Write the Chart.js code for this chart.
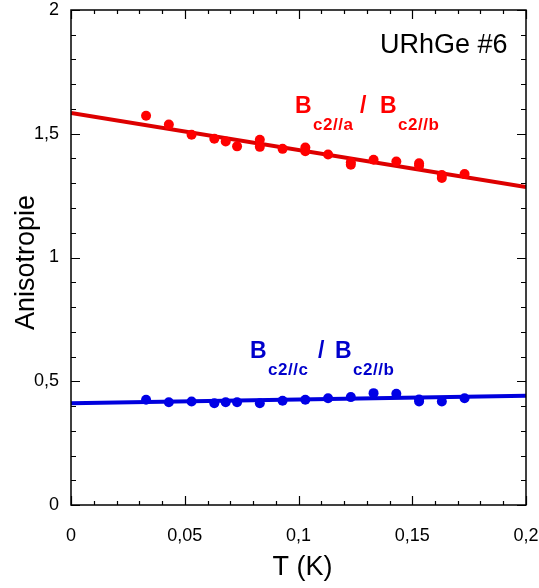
<!DOCTYPE html>
<html>
<head>
<meta charset="utf-8">
<script src="https://cdn.jsdelivr.net/npm/chart.js@4.4.0/dist/chart.umd.min.js"></script>
<style>
  html, body { margin: 0; padding: 0; background: #fff; }
  #wrap { width: 539px; height: 588px; }
</style>
</head>
<body>
<div id="wrap"><canvas id="c" width="539" height="588"></canvas></div>
<script>
// ---- data ----
const tRed = [0.033,0.043,0.053,0.063,0.068,0.073,0.083,0.083,0.093,0.103,0.103,0.113,0.123,0.123,0.133,0.143,0.153,0.153,0.163,0.163,0.173];
const ratioAB = [1.573,1.537,1.496,1.480,1.469,1.449,1.476,1.447,1.439,1.444,1.429,1.416,1.375,1.385,1.395,1.388,1.371,1.381,1.321,1.333,1.337];
const tBlue = [0.033,0.043,0.053,0.063,0.068,0.073,0.083,0.093,0.103,0.113,0.123,0.133,0.143,0.153,0.153,0.163,0.173];
const ratioCB = [0.425,0.415,0.418,0.411,0.415,0.415,0.411,0.421,0.425,0.431,0.436,0.452,0.449,0.418,0.426,0.418,0.431];
const fitT = [0, 0.2];
const fitAB = [1.584, 1.285];
const fitCB = [0.411, 0.441];
const xTicks = [0, 0.05, 0.1, 0.15, 0.2];
const yTicks = [0, 0.5, 1, 1.5, 2];
const xMinorStep = 0.01;
const yMinorStep = 0.1;
const sampleLabel = "URhGe #6";
const xTitle = "T (K)";
const yTitle = "Anisotropie";

const FONT = '"Liberation Sans", Arial, sans-serif';
const fmt = v => String(Math.round(v * 100) / 100).replace('.', ',');
const pts = (xs, ys) => xs.map((x, i) => ({ x: x, y: ys[i] }));

const framePlugin = {
  id: 'frame',
  afterDatasetsDraw(chart) {
    const ctx = chart.ctx;
    const a = chart.chartArea;
    const xs = chart.scales.x, ys = chart.scales.y;
    ctx.save();
    ctx.strokeStyle = '#000';
    ctx.lineWidth = 1.5;
    ctx.strokeRect(a.left, a.top, a.right - a.left, a.bottom - a.top);
    ctx.lineWidth = 1.2;
    ctx.beginPath();
    const nx = Math.round((xs.max - xs.min) / xMinorStep);
    for (let i = 0; i <= nx; i++) {
      const v = xs.min + i * xMinorStep;
      const major = xTicks.some(t => Math.abs(t - v) < 1e-9);
      const L = major ? 9 : 4;
      const p = Math.round(xs.getPixelForValue(v)) + 0.5;
      ctx.moveTo(p, a.bottom); ctx.lineTo(p, a.bottom - L);
      ctx.moveTo(p, a.top); ctx.lineTo(p, a.top + L);
    }
    const ny = Math.round((ys.max - ys.min) / yMinorStep);
    for (let i = 0; i <= ny; i++) {
      const v = ys.min + i * yMinorStep;
      const major = yTicks.some(t => Math.abs(t - v) < 1e-9);
      const L = major ? 9 : 5;
      const p = Math.round(ys.getPixelForValue(v)) + 0.5;
      ctx.moveTo(a.left, p); ctx.lineTo(a.left + L, p);
      ctx.moveTo(a.right, p); ctx.lineTo(a.right - L, p);
    }
    ctx.stroke();
    ctx.restore();
  },
  afterDraw(chart) {
    const ctx = chart.ctx;
    const a = chart.chartArea;
    const xs = chart.scales.x, ys = chart.scales.y;
    ctx.save();
    ctx.fillStyle = '#000';
    ctx.textBaseline = 'alphabetic';
    // axis titles
    ctx.font = '27px ' + FONT;
    ctx.textAlign = 'center';
    ctx.fillText(xTitle, (a.left + a.right) / 2 + 4, 575);
    ctx.save();
    ctx.translate(34, (a.top + a.bottom) / 2 + 5);
    ctx.rotate(-Math.PI / 2);
    ctx.fillText(yTitle, 0, 0);
    ctx.restore();
    // sample label
    ctx.textAlign = 'left';
    ctx.font = '27px ' + FONT;
    ctx.fillText(sampleLabel, 380, 53);
    // ratio labels
    function ratioLabel(xv, yv, color, sub1, slashOff, b2Off) {
      const x0 = xs.getPixelForValue(xv);
      const y0 = ys.getPixelForValue(yv);
      ctx.fillStyle = color;
      ctx.font = 'bold 23px ' + FONT;
      ctx.letterSpacing = '0px';
      ctx.fillText('B', x0, y0);
      ctx.fillText('/', x0 + slashOff, y0);
      ctx.fillText('B', x0 + b2Off, y0);
      ctx.font = 'bold 17px ' + FONT;
      ctx.letterSpacing = '0.5px';
      ctx.fillText(sub1, x0 + 18, y0 + 17);
      ctx.fillText('c2//b', x0 + b2Off + 18, y0 + 17);
      ctx.letterSpacing = '0px';
    }
    ratioLabel(0.0985, 1.583, '#ff0000', 'c2//a', 65, 85);
    ratioLabel(0.0787, 0.593, '#0000cc', 'c2//c', 68, 85);
    ctx.restore();
  }
};

new Chart(document.getElementById('c'), {
  type: 'scatter',
  data: {
    datasets: [
      { data: pts(tRed, ratioAB), backgroundColor: '#ff0000', borderColor: '#ff0000', pointRadius: 5, pointBorderWidth: 0, order: 1 },
      { data: pts(tBlue, ratioCB), backgroundColor: '#0000e6', borderColor: '#0000e6', pointRadius: 5, pointBorderWidth: 0, order: 1 },
      { data: pts(fitT, fitAB), showLine: true, borderColor: '#dd0000', borderWidth: 4, pointRadius: 0, fill: false, order: 2 },
      { data: pts(fitT, fitCB), showLine: true, borderColor: '#0000dd', borderWidth: 4, pointRadius: 0, fill: false, order: 2 }
    ]
  },
  options: {
    responsive: false,
    devicePixelRatio: 1,
    animation: false,
    layout: { padding: { top: 10, right: 13, left: 0, bottom: 0 } },
    plugins: { legend: { display: false }, tooltip: { enabled: false } },
    scales: {
      x: {
        type: 'linear', min: 0, max: 0.2,
        grid: { display: false, drawTicks: false },
        border: { display: false },
        ticks: { stepSize: 0.05, padding: 20, color: '#000', font: { size: 18, family: FONT }, callback: v => fmt(v), maxRotation: 0 },
        afterFit: s => { s.height = 83; s.paddingLeft = 0; s.paddingRight = 0; }
      },
      y: {
        type: 'linear', min: 0, max: 2,
        grid: { display: false, drawTicks: false },
        border: { display: false },
        ticks: { stepSize: 0.5, padding: 12, color: '#000', font: { size: 18, family: FONT }, callback: v => fmt(v) },
        afterFit: s => { s.width = 71; s.paddingTop = 0; s.paddingBottom = 0; }
      }
    }
  },
  plugins: [framePlugin]
});
</script>
</body>
</html>
